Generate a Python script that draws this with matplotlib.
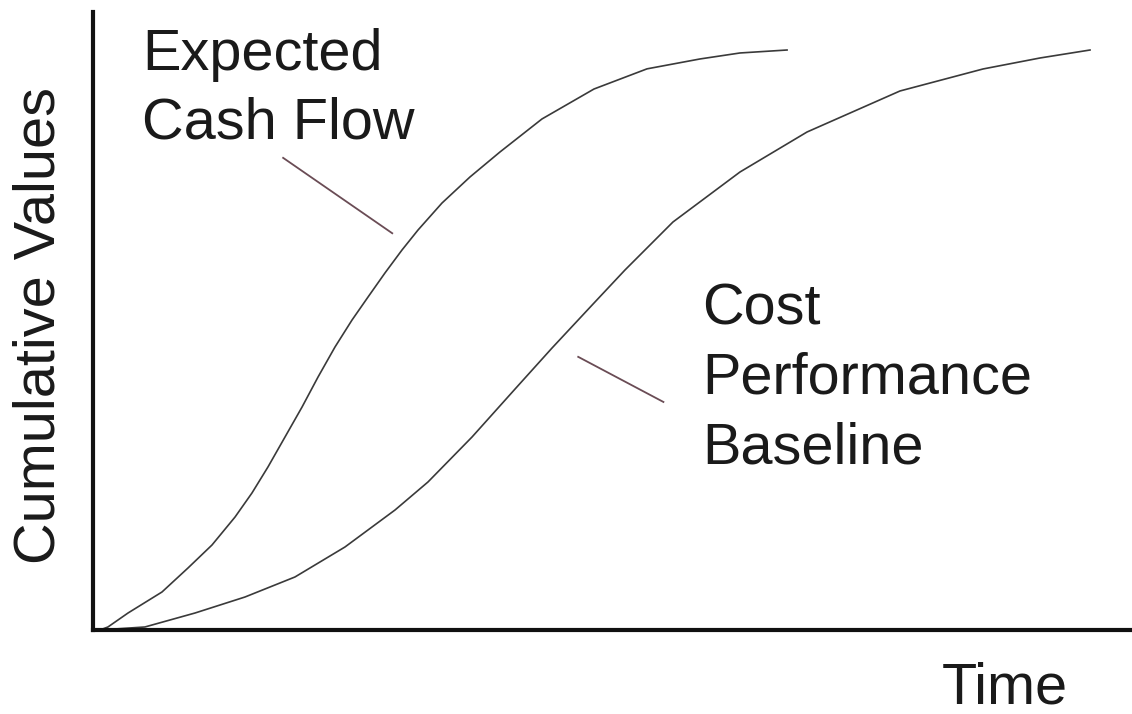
import matplotlib.pyplot as plt

# values (time 0-100, cumulative value 0-100)
cash_t = [0.67, 1.44, 3.37, 6.64, 9.14, 11.45, 13.67, 15.30, 16.84, 18.48, 20.12, 21.66, 23.29,
          24.93, 26.47, 28.10, 29.74, 31.28, 33.59, 36.28, 39.17, 43.21, 48.22, 53.32, 58.42,
          62.27, 66.80]
cash_v = [0.0, 0.49, 2.75, 6.15, 10.03, 13.75, 18.28, 22.17, 26.38, 31.23, 36.08, 40.94, 45.79,
          50.16, 53.88, 57.77, 61.49, 64.72, 69.09, 73.30, 77.35, 82.69, 87.54, 90.80, 92.40,
          93.37, 93.85]

base_t = [0.67, 5.00, 9.82, 14.63, 19.44, 24.25, 29.07, 32.24, 36.48, 40.71, 44.18, 48.22, 51.20,
          55.82, 62.27, 68.72, 77.67, 85.66, 91.15, 95.96]
base_v = [0.0, 0.49, 2.75, 5.34, 8.58, 13.43, 19.42, 23.95, 31.23, 39.16, 45.63, 52.91, 58.25,
          66.02, 74.11, 80.58, 87.22, 90.78, 92.56, 93.85]

# leader lines from labels to curves
cash_lead_t = [18.3, 28.8]
cash_lead_v = [76.4, 64.2]
base_lead_t = [46.7, 54.9]
base_lead_v = [44.2, 36.9]

cash_label = ["Expected", "Cash Flow"]
base_label = ["Cost", "Performance", "Baseline"]

plt.rcParams['font.family'] = ['Liberation Sans', 'DejaVu Sans']
fs = 41.5

fig = plt.figure(figsize=(11.32, 7.14), dpi=100)
ax = fig.add_axes([93 / 1132, 84 / 714, 1039 / 1132, 618 / 714])

ax.plot(cash_t, cash_v, color='#3a3a3a', lw=1.2)
ax.plot(base_t, base_v, color='#3a3a3a', lw=1.2)
ax.plot(cash_lead_t, cash_lead_v, color='#6a4c55', lw=1.3)
ax.plot(base_lead_t, base_lead_v, color='#6a4c55', lw=1.3)

for i, line in enumerate(cash_label):
    ax.text(4.7, 90.6 - 11.0 * i, line, fontsize=fs, va='baseline', ha='left', color='#1a1a1a')
for i, line in enumerate(base_label):
    ax.text(58.6, 49.4 - 11.2 * i, line, fontsize=fs, va='baseline', ha='left', color='#1a1a1a')

ax.set_xlim(0, 100)
ax.set_ylim(0, 100)
ax.set_xticks([])
ax.set_yticks([])
for side in ['top', 'right']:
    ax.spines[side].set_visible(False)
for side in ['left', 'bottom']:
    ax.spines[side].set_linewidth(3)
    ax.spines[side].set_color('#111111')

fig.text(40 / 1132, 1 - 325 / 714, "Cumulative Values", rotation=90, fontsize=fs,
         ha='center', va='center', color='#1a1a1a')
fig.text(1005 / 1132, 1 - 703 / 714, "Time", fontsize=fs, ha='center', va='baseline', color='#1a1a1a')

fig.savefig('out.png', dpi=100)
